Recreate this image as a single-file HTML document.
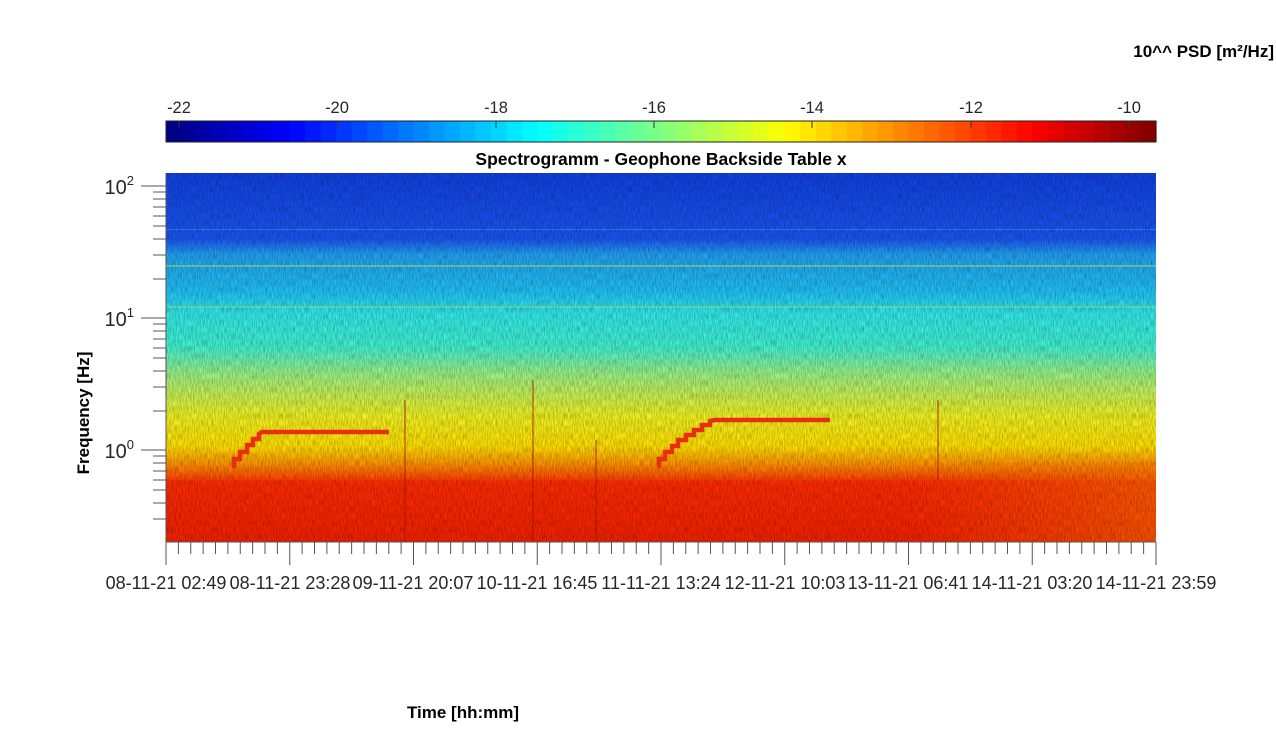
<!DOCTYPE html>
<html><head><meta charset="utf-8"><style>
body{margin:0;background:#fff;width:1276px;height:743px;overflow:hidden;font-family:"Liberation Sans",Arial,sans-serif}
</style></head><body>
<svg width="1276" height="743" xmlns="http://www.w3.org/2000/svg" font-family="Liberation Sans, Arial, sans-serif">
<defs>
<linearGradient id="spec" x1="0" x2="0" y1="0" y2="1">
<stop offset="0" stop-color="#1040e0"/>
<stop offset="0.18" stop-color="#1a55f0"/>
<stop offset="0.22" stop-color="#20a0f0"/>
<stop offset="0.32" stop-color="#20c0f5"/>
<stop offset="0.38" stop-color="#30e8e8"/>
<stop offset="0.47" stop-color="#40f0d0"/>
<stop offset="0.55" stop-color="#a0f080"/>
<stop offset="0.66" stop-color="#f0f020"/>
<stop offset="0.74" stop-color="#ffe000"/>
<stop offset="0.79" stop-color="#ff9000"/>
<stop offset="0.84" stop-color="#ff3000"/>
<stop offset="1" stop-color="#ee2000"/>
</linearGradient>
<linearGradient id="rfade" x1="0" x2="1" y1="0" y2="0">
<stop offset="0" stop-color="#ff3000" stop-opacity="0"/>
<stop offset="0.75" stop-color="#ff7000" stop-opacity="0"/>
<stop offset="1" stop-color="#ff8000" stop-opacity="0.5"/>
</linearGradient>
<filter id="noise" x="0" y="0" width="100%" height="100%">
<feTurbulence type="fractalNoise" baseFrequency="0.9 0.15" numOctaves="2" seed="3"/>
<feColorMatrix type="matrix" values="0 0 0 0 0  0 0 0 0 0  0 0 0 0 0  0 0 0 0.5 -0.15"/>
</filter>
</defs>
<!-- colorbar -->
<g id="cb"></g>
<rect x="166" y="121" width="990" height="21" fill="none" stroke="#222" stroke-width="1"/>
<g stroke="#333" stroke-width="1">
<line x1="179" y1="121" x2="179" y2="128"/><line x1="337" y1="121" x2="337" y2="128"/>
<line x1="496" y1="121" x2="496" y2="128"/><line x1="654" y1="121" x2="654" y2="128"/>
<line x1="812" y1="121" x2="812" y2="128"/><line x1="971" y1="121" x2="971" y2="128"/>
<line x1="1129" y1="121" x2="1129" y2="128"/>
</g>
<g font-size="16.5" fill="#262626" text-anchor="middle">
<text x="179" y="113">-22</text><text x="337" y="113">-20</text><text x="496" y="113">-18</text>
<text x="654" y="113">-16</text><text x="812" y="113">-14</text><text x="971" y="113">-12</text>
<text x="1129" y="113">-10</text>
</g>
<text x="1274" y="57" font-size="17" font-weight="bold" text-anchor="end">10^^ PSD [m²/Hz]</text>
<text x="661" y="165" font-size="17.5" font-weight="bold" text-anchor="middle">Spectrogramm - Geophone Backside Table x</text>
<!-- spectrogram -->
<rect x="166" y="173" width="990" height="369" fill="url(#spec)"/>
<g opacity="0.5">
<rect x="166" y="265" width="990" height="2" fill="#c0f060"/>
<rect x="166" y="306" width="990" height="2" fill="#a0f080"/>
<rect x="166" y="229" width="990" height="1" fill="#40b0f0"/>
</g>
<rect x="166" y="480" width="990" height="62" fill="#ff2000" opacity="0.3"/>
<rect x="166" y="462" width="990" height="80" fill="url(#rfade)"/>
<rect x="166" y="173" width="990" height="369" filter="url(#noise)"/>
<g stroke="#a01000" stroke-width="1" opacity="0.8">
<line x1="405" y1="400" x2="405" y2="542"/><line x1="533" y1="380" x2="533" y2="542"/>
<line x1="596" y1="440" x2="596" y2="542"/><line x1="938" y1="400" x2="938" y2="480"/>
</g>
<g stroke="#e83010" stroke-width="4.5" fill="none">
<polyline points="232,466 234,466 234,459 240,459 240,452 247,452 247,445 253,445 253,439 259,439 259,434 262,432 389,432"/>
<polyline points="657,466 659,466 659,459 665,459 665,452 672,452 672,446 678,446 678,440 686,440 686,435 694,435 694,430 702,430 702,425 710,425 710,421 715,420 830,420"/>
</g>
<!-- y axis -->
<g stroke="#555" stroke-width="1">
<line x1="166" y1="173" x2="166" y2="542"/>
<line x1="141" y1="186" x2="166" y2="186"/><line x1="141" y1="318" x2="166" y2="318"/><line x1="141" y1="450" x2="166" y2="450"/>
<line x1="153" y1="192" x2="166" y2="192"/><line x1="153" y1="199" x2="166" y2="199"/><line x1="153" y1="207" x2="166" y2="207"/>
<line x1="153" y1="216" x2="166" y2="216"/><line x1="153" y1="226" x2="166" y2="226"/><line x1="153" y1="239" x2="166" y2="239"/>
<line x1="153" y1="255" x2="166" y2="255"/><line x1="153" y1="279" x2="166" y2="279"/>
<line x1="153" y1="324" x2="166" y2="324"/><line x1="153" y1="331" x2="166" y2="331"/><line x1="153" y1="339" x2="166" y2="339"/>
<line x1="153" y1="348" x2="166" y2="348"/><line x1="153" y1="358" x2="166" y2="358"/><line x1="153" y1="371" x2="166" y2="371"/>
<line x1="153" y1="387" x2="166" y2="387"/><line x1="153" y1="411" x2="166" y2="411"/>
<line x1="153" y1="456" x2="166" y2="456"/><line x1="153" y1="463" x2="166" y2="463"/><line x1="153" y1="471" x2="166" y2="471"/>
<line x1="153" y1="480" x2="166" y2="480"/><line x1="153" y1="490" x2="166" y2="490"/><line x1="153" y1="503" x2="166" y2="503"/>
<line x1="153" y1="519" x2="166" y2="519"/>
</g>
<g font-size="20" fill="#262626" text-anchor="end">
<text x="134" y="194">10<tspan font-size="13" dy="-9">2</tspan></text>
<text x="134" y="326">10<tspan font-size="13" dy="-9">1</tspan></text>
<text x="134" y="458">10<tspan font-size="13" dy="-9">0</tspan></text>
</g>
<text transform="translate(89,413) rotate(-90)" font-size="17" font-weight="bold" text-anchor="middle">Frequency [Hz]</text>
<!-- x axis -->
<line x1="166" y1="542" x2="1156" y2="542" stroke="#555"/>
<g id="xt" stroke="#555" stroke-width="1"></g>
<g font-size="18" fill="#262626" text-anchor="middle">
<text x="166" y="589">08-11-21 02:49</text>
<text x="290" y="589">08-11-21 23:28</text>
<text x="413" y="589">09-11-21 20:07</text>
<text x="537" y="589">10-11-21 16:45</text>
<text x="661" y="589">11-11-21 13:24</text>
<text x="785" y="589">12-11-21 10:03</text>
<text x="908" y="589">13-11-21 06:41</text>
<text x="1032" y="589">14-11-21 03:20</text>
<text x="1156" y="589">14-11-21 23:59</text>
</g>
<text x="463" y="718" font-size="17" font-weight="bold" text-anchor="middle">Time [hh:mm]</text>
</svg>
<script>
var g=document.getElementById('xt');var s='';
for(var i=0;i<=80;i++){var x=166+i*990/80;var L=(i%10==0)?23:12;s+='<line x1="'+x+'" y1="542" x2="'+x+'" y2="'+(542+L)+'"/>';}
g.innerHTML=s;
function jet(t){function c(v){return Math.max(0,Math.min(1,v));}
var r=c(Math.min(4*t-1.5,-4*t+4.5)),gg=c(Math.min(4*t-0.5,-4*t+3.5)),b=c(Math.min(4*t+0.5,-4*t+2.5));
return 'rgb('+Math.round(r*255)+','+Math.round(gg*255)+','+Math.round(b*255)+')';}
var cb=document.getElementById('cb');s='';var w=990/64;
for(var i=0;i<64;i++){s+='<rect x="'+(166+i*w)+'" y="121" width="'+(w+0.6)+'" height="21" fill="'+jet((i+0.5)/64)+'"/>';}
cb.innerHTML=s;
</script>
</body></html>
